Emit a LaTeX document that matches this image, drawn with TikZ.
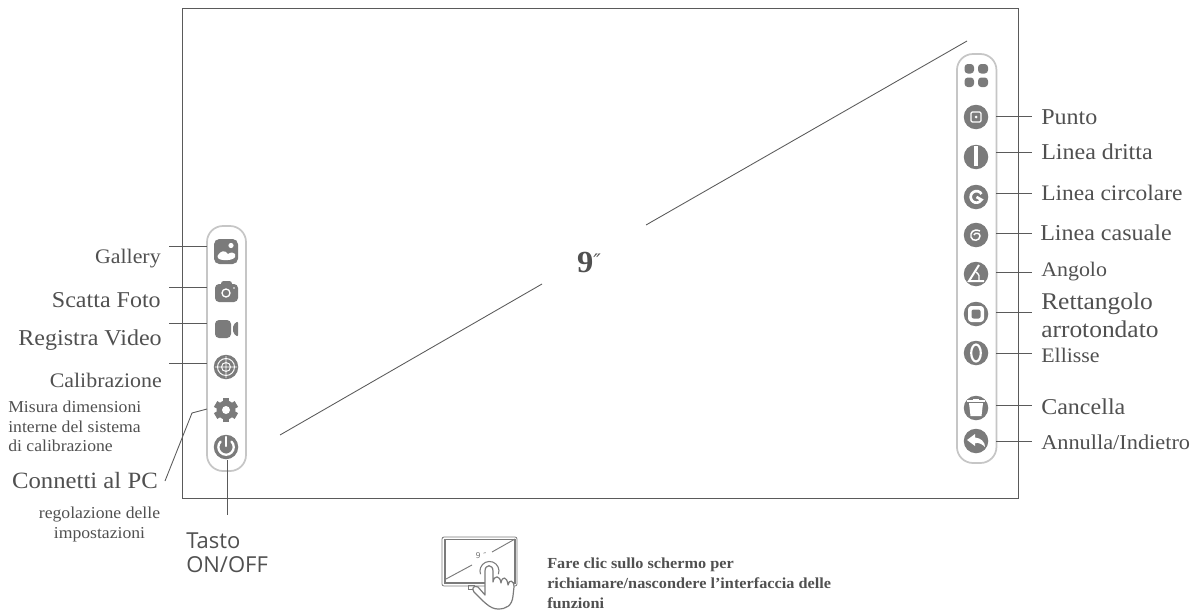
\documentclass[tikz,border=0pt]{standalone}
\usepackage{fontspec}
\setmainfont{Liberation Serif}[FakeStretch=1.06]
\newfontfamily\tastofont{Open Sans}
\newfontfamily\primefont{DejaVu Sans}
\usepackage{xcolor}
\usetikzlibrary{arrows.meta, positioning}
\usetikzlibrary{calc}
\definecolor{inkgrey}{HTML}{505050}
\definecolor{framegrey}{HTML}{5A5A5A}
\definecolor{icongrey}{HTML}{7B7B7B}
\definecolor{panelgrey}{HTML}{C6C6C6}
\tikzset{
    lab/.style={inner sep=0pt,text=inkgrey,font=\fontsize{17}{21}\selectfont},
    labr/.style={lab,anchor=east},
    labl/.style={lab,anchor=west},
    narrow/.style={font=\fontsize{15.5}{21}\selectfont},
    small/.style={inner sep=0pt,text=inkgrey,font=\fontsize{12.5}{14.6}\selectfont},
    panel/.style={draw=panelgrey,line width=1.3pt,rounded corners=12pt,fill=white},
    icon/.style={circle,fill=icongrey,minimum size=24.5*0.75pt,inner sep=0pt},
    wire/.style={draw=framegrey,line width=0.65pt}
}
\begin{document}
\begin{tikzpicture}[x=0.75pt,y=-0.75pt]
    \useasboundingbox (0,0) rectangle (1196,614);
    % screen
    \draw[framegrey,line width=0.6pt] (182,8) rectangle (1018,498);
    \coordinate (diagA) at (280,435);
    \coordinate (diagB) at (542,284);
    \coordinate (diagC) at (646,225);
    \coordinate (diagD) at (967,41);
    \draw[wire] (diagA) -- (diagB);
    \draw[wire] (diagC) -- (diagD);
    \node[inner sep=0pt,text=inkgrey,font=\fontsize{23}{23}\bfseries\selectfont](size) at (589,262) {9\raisebox{3pt}{\primefont\fontsize{15}{15}\mdseries\selectfont\itshape ″}};
    % panels
    \node[panel,minimum width=39*0.75pt,minimum height=245*0.75pt,inner sep=0pt](panelL) at (226.5,348.5) {};
    \node[panel,minimum width=39.5*0.75pt,minimum height=409*0.75pt,inner sep=0pt](panelR) at (976.7,258.5) {};
    % left icons
    \node[inner sep=0pt,minimum size=18pt](gallery) at (226,251) {};
    \fill[icongrey,rounded corners=4pt] (214,239) rectangle (238,264);
    \fill[white] (231,245.5) circle (2.6);
    \fill[white] (217.5,256) .. controls (221,250) and (225,250) .. (228,254) .. controls (231,252) and (234,252) .. (235,254) -- (235,257) .. controls (233,261) and (220,261) .. (218,258) -- cycle;
    \node[inner sep=0pt,minimum size=18pt](camera) at (226,292) {};
    \fill[icongrey,rounded corners=3pt] (215,284) rectangle (238,302);
    \fill[icongrey,rounded corners=2pt] (221,281) rectangle (232,288);
    \draw[white,line width=1pt] (226,293) circle (4);
    \fill[white] (234,288) circle (0.9);
    \node[inner sep=0pt,minimum size=18pt](video) at (226,329) {};
    \fill[icongrey,rounded corners=3pt] (215,320) rectangle (231,338);
    \fill[icongrey,rounded corners=1.5pt] (233,325) -- (238,321) -- (238,337) -- (233,333) -- cycle;
    \node[icon](target) at (226,367) {};
    \draw[white,line width=0.7pt] (226,367) circle (8.5) (226,367) circle (4.5) (215,367) -- (237,367) (226,356) -- (226,378);
    \node[inner sep=0pt,minimum size=18pt](gear) at (226,410) {};
    \foreach \a in {30,90,150} {\draw[icongrey,line width=5pt] ($(gear)+(\a:12)$) -- ($(gear)+(\a+180:12)$);}
    \fill[icongrey] (gear) circle (9.5);
    \fill[white] (gear) circle (4);
    \node[icon](power) at (226,447) {};
    \draw[white,line width=1.7pt,line cap=round] (220.6,441.6) arc (225:-45:7.7);
    \draw[white,line width=1.7pt,line cap=round] (226,437) -- (226,446);
    % right icons
    \node[inner sep=0pt,minimum size=18pt](grid) at (976,75) {};
    \fill[icongrey,rounded corners=2.5pt] (964.5,64) rectangle (974,73.5);
    \fill[icongrey,rounded corners=2.5pt] (978,64) rectangle (988,73.5);
    \fill[icongrey,rounded corners=2.5pt] (964.5,77.5) rectangle (974,87);
    \fill[icongrey,rounded corners=2.5pt] (978,77.5) rectangle (988,87);
    \node[icon](punto) at (976,117) {};
    \draw[white,line width=0.9pt,rounded corners=1pt] (971,112) rectangle (981,122);
    \fill[white] (punto) circle (1.5);
    \node[icon](dritta) at (976,157) {};
    \fill[white] (974,146) rectangle (977.5,166);
    \node[icon](circolare) at (976,197) {};
    \draw[white,line width=2pt] (981.5,194) arc (-30:-330:5.8) -- (976.5,197);
    \node[icon](casuale) at (976,235) {};
    \draw[white,line width=1.1pt] (980,231) .. controls (973,228) and (970,233) .. (971,237) .. controls (972,242) and (980,241) .. (980,236) .. controls (980,233) and (975,232) .. (974,235);
    \node[icon](angolo) at (976,274) {};
    \draw[white,line width=1.5pt] (979,265) -- (969,281) -- (984,281);
    \draw[white,line width=1pt] (976,272) .. controls (979,274) and (980,277) .. (979,280);
    \node[icon](rettangolo) at (976,314) {};
    \fill[white,rounded corners=2.5pt] (968,306) rectangle (984,322);
    \fill[icongrey,rounded corners=1.5pt] (971.5,309.5) rectangle (980.5,318.5);
    \node[icon](ellisse) at (976,353) {};
    \draw[white,line width=1.6pt] (ellisse) ellipse (4.8 and 8.5);
    \node[icon](cancella) at (976,408) {};
    \fill[white] (969,403) -- (983,403) -- (981.5,416) -- (970.5,416) -- cycle;
    \draw[white,line width=1.2pt] (967,401) -- (985,401);
    \draw[white,line width=0.9pt] (973,400) -- (979,400);
    \node[icon](annulla) at (976,441) {};
    \fill[white] (967,440) -- (975,434) -- (975,437.5) .. controls (981,438) and (985,442) .. (985,447) .. controls (982,444) and (979,442.5) .. (975,443) -- (975,446) -- cycle;
    % left labels
    \coordinate (galleryA) at (169,246);
    \coordinate (galleryB) at (207,246);
    \coordinate (cameraA) at (169,287);
    \coordinate (cameraB) at (207,287);
    \coordinate (videoA) at (169,323);
    \coordinate (videoB) at (207,323);
    \coordinate (targetA) at (169,363);
    \coordinate (targetB) at (207,363);
    \coordinate (gearA) at (165,481);
    \coordinate (gearK) at (192,413);
    \coordinate (gearB) at (207,409);
    \coordinate (powerA) at (227,460);
    \coordinate (powerB) at (227,515);
    \draw[wire] (galleryA) -- (galleryB);
    \draw[wire] (cameraA) -- (cameraB);
    \draw[wire] (videoA) -- (videoB);
    \draw[wire] (targetA) -- (targetB);
    \draw[wire] (gearA) -- (gearK) -- (gearB);
    \draw[wire] (powerA) -- (powerB);
    \node[labr,narrow](lgallery) at (161,259) {Gallery};
    \node[labr](lcamera) at (161,300) {Scatta Foto};
    \node[labr](lvideo) at (162,340) {Registra Video};
    \node[labr,narrow](ltarget) at (162,380) {Calibrazione};
    \node[small,anchor=west,align=left](lmisura) at (8,426.5) {Misura dimensioni\\interne del sistema\\di calibrazione};
    \node[labr,font=\fontsize{17.5}{21}\selectfont](lconn) at (158,481) {Connetti al PC};
    \node[small,align=center](lregol) at (99.5,524.5) {regolazione delle\\impostazioni};
    \node[inner sep=0pt,anchor=west,align=left,text=inkgrey,font=\tastofont\fontsize{16.5}{18}\selectfont](ltasto) at (186,553) {Tasto\\ON/OFF};
    % right labels
    \coordinate (puntoA) at (996,116);
    \coordinate (puntoB) at (1032,116);
    \coordinate (drittaA) at (996,152);
    \coordinate (drittaB) at (1032,152);
    \coordinate (circolareA) at (996,193);
    \coordinate (circolareB) at (1032,193);
    \coordinate (casualeA) at (996,233);
    \coordinate (casualeB) at (1032,233);
    \coordinate (angoloA) at (996,272);
    \coordinate (angoloB) at (1032,272);
    \coordinate (rettA) at (996,312);
    \coordinate (rettB) at (1032,312);
    \coordinate (ellisseA) at (996,353);
    \coordinate (ellisseB) at (1032,353);
    \coordinate (cancellaA) at (996,405);
    \coordinate (cancellaB) at (1032,405);
    \coordinate (annullaA) at (996,441);
    \coordinate (annullaB) at (1032,441);
    \draw[wire] (puntoA) -- (puntoB);
    \draw[wire] (drittaA) -- (drittaB);
    \draw[wire] (circolareA) -- (circolareB);
    \draw[wire] (casualeA) -- (casualeB);
    \draw[wire] (angoloA) -- (angoloB);
    \draw[wire] (rettA) -- (rettB);
    \draw[wire] (ellisseA) -- (ellisseB);
    \draw[wire] (cancellaA) -- (cancellaB);
    \draw[wire] (annullaA) -- (annullaB);
    \node[labl](lpunto) at (1041,117) {Punto};
    \node[labl](ldritta) at (1041,152) {Linea dritta};
    \node[labl,font=\fontsize{16.6}{21}\selectfont](lcircolare) at (1041,193) {Linea circolare};
    \node[labl](lcasuale) at (1040,233) {Linea casuale};
    \node[labl,narrow](langolo) at (1041,272) {Angolo};
    \node[labl,align=left,font=\fontsize{18}{21}\selectfont](lrett) at (1041,315) {Rettangolo\\arrotondato};
    \node[labl,narrow](lellisse) at (1041,355) {Ellisse};
    \node[labl](lcancella) at (1041,407) {Cancella};
    \node[labl,font=\fontsize{15.8}{21}\selectfont](lannulla) at (1041,442) {Annulla/Indietro};
    % tablet with hand
    \draw[icongrey,line width=0.6pt,rounded corners=1.5pt] (442,537) rectangle (517,586);
    \draw[icongrey,line width=0.8pt] (445,539.5) rectangle (515,583);
    \coordinate (tipA) at (446,579);
    \coordinate (tipB) at (472,565);
    \coordinate (tipC) at (492,552);
    \coordinate (tipD) at (515,539);
    \draw[icongrey,line width=0.7pt] (tipA) -- (tipB);
    \draw[icongrey,line width=0.7pt] (tipC) -- (tipD);
    \node[inner sep=0pt,text=icongrey,font=\primefont\fontsize{6}{7}\selectfont](mini) at (481,556) {9 ″};
    \draw[icongrey,line width=0.8pt] (498.4,574.2) arc (20:-200:9.5);
    \draw[icongrey,line width=0.7pt] (468,585) rectangle (474,589);
    \draw[icongrey,line width=0.9pt,fill=white,line join=round] (485,595) -- (485,571) .. controls (485,564) and (493,564) .. (493,571) -- (493,582) .. controls (494,575) and (500,575) .. (501,583) .. controls (502,576) and (507,576) .. (508,585) .. controls (509,579) and (514,580) .. (514,587) -- (513,596) .. controls (512,606) and (506,609) .. (498,609) .. controls (490,609) and (484,602) .. (474,592) .. controls (471,588) and (474,585) .. (478,587) -- cycle;
    \node[inner sep=0pt,anchor=north west,align=left,text=inkgrey,font=\fontsize{11.5}{15}\bfseries\selectfont](lfare) at (547,558) {Fare clic sullo schermo per\\richiamare/nascondere l'interfaccia delle\\funzioni};
\end{tikzpicture}
\end{document}
